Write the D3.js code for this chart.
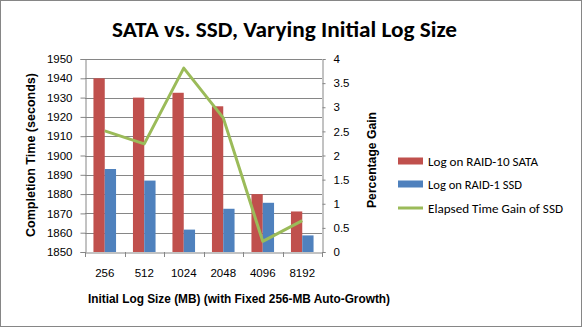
<!DOCTYPE html>
<html><head><meta charset="utf-8">
<script src="https://cdn.jsdelivr.net/npm/d3@7"></script>
<style>
body{margin:0;background:#fff;}
svg{display:block;}
</style></head>
<body><svg id="c" width="582" height="327"></svg>
<script>
const categories = ["256","512","1024","2048","4096","8192"];
const sataValues = [1940, 1930, 1932.5, 1925.5, 1880, 1871];
const ssdValues  = [1893, 1887, 1861.6, 1872.4, 1875.5, 1858.6];
const gainValues = [2.51, 2.24, 3.81, 2.78, 0.22, 0.65];
const leftTicks = [1850,1860,1870,1880,1890,1900,1910,1920,1930,1940,1950];
const rightTicks = [0,0.5,1,1.5,2,2.5,3,3.5,4];
const seriesNames = ["Log on RAID-10 SATA","Log on RAID-1 SSD","Elapsed Time  Gain of SSD"];
const colors = ["#C0504D","#4F81BD","#9BBB59"];

const svg = d3.select("#c");
const W=582,H=327;
svg.append("rect").attr("x",0.5).attr("y",0.5).attr("width",W-1).attr("height",H-1)
  .attr("fill","#fff").attr("stroke","#868686");

const L=85, R=322, T=59, B=252;
const x = d3.scaleBand().domain(categories).range([L,R]).paddingInner(0).paddingOuter(0);
const yL = d3.scaleLinear().domain([1850,1950]).range([B,T]);
const yR = d3.scaleLinear().domain([0,4]).range([B,T]);

// gridlines
svg.append("g").selectAll("line").data(leftTicks.slice(1)).join("line")
  .attr("x1",L).attr("x2",R).attr("y1",d=>Math.round(yL(d))+0.5).attr("y2",d=>Math.round(yL(d))+0.5)
  .attr("stroke","#868686").attr("stroke-width",1);

// bars
const bw = 11.3;
const g = svg.append("g");
g.selectAll(".s").data(sataValues).join("rect")
  .attr("x",(d,i)=>x(categories[i])+x.bandwidth()/2-bw).attr("width",bw)
  .attr("y",d=>yL(d)).attr("height",d=>B-yL(d)).attr("fill",colors[0]);
g.selectAll(".b").data(ssdValues).join("rect")
  .attr("x",(d,i)=>x(categories[i])+x.bandwidth()/2).attr("width",bw)
  .attr("y",d=>yL(d)).attr("height",d=>B-yL(d)).attr("fill",colors[1]);

// axes
const axL = svg.append("g").attr("transform",`translate(${L+0.5},0)`)
  .call(d3.axisLeft(yL).tickValues(leftTicks).tickSize(5).tickPadding(8).tickFormat(d3.format("d")));
const axR = svg.append("g").attr("transform",`translate(${R+0.5},0)`)
  .call(d3.axisRight(yR).tickValues(rightTicks).tickSize(3).tickPadding(8).tickFormat(d=>String(d)));
const axB = svg.append("g").attr("transform",`translate(0,${B+0.5})`)
  .call(d3.axisBottom(x).tickSize(0).tickPadding(16));
// category separators on x axis
svg.append("g").selectAll("line").data(categories.concat(["end"])).join("line")
  .attr("x1",(d,i)=>Math.round(L+i*x.bandwidth())+0.5).attr("x2",(d,i)=>Math.round(L+i*x.bandwidth())+0.5)
  .attr("y1",B).attr("y2",B+5).attr("stroke","#868686");
[axL,axR,axB].forEach(a=>{
  a.selectAll("path,line").attr("stroke","#868686");
  a.selectAll("text").attr("font-family","'Liberation Sans', Arial, sans-serif").attr("font-size",11.5).attr("fill","#000");
});

// line
svg.append("path").datum(gainValues)
  .attr("d",d3.line().x((d,i)=>x(categories[i])+x.bandwidth()/2).y(d=>yR(d)))
  .attr("fill","none").attr("stroke",colors[2]).attr("stroke-width",3).attr("stroke-linejoin","round");

// titles
const calibri = "Carlito, Lato, 'Open Sans', sans-serif";
const sans = "'Liberation Sans', Arial, sans-serif";
svg.append("text").attr("x",284.5).attr("y",37).attr("text-anchor","middle")
  .attr("font-family",calibri).attr("font-weight","bold").attr("font-size",23)
  .attr("textLength",345).attr("lengthAdjust","spacingAndGlyphs").text("SATA vs. SSD, Varying Initial Log Size");
svg.append("text").attr("transform","translate(35,155) rotate(-90)").attr("text-anchor","middle")
  .attr("font-family",sans).attr("font-weight","bold").attr("font-size",12.5)
  .attr("textLength",164).attr("lengthAdjust","spacingAndGlyphs").text("Completion Time (seconds)");
svg.append("text").attr("transform","translate(376,160) rotate(-90)").attr("text-anchor","middle")
  .attr("font-family",sans).attr("font-weight","bold").attr("font-size",12.5)
  .attr("textLength",96).attr("lengthAdjust","spacingAndGlyphs").text("Percentage Gain");
svg.append("text").attr("x",239).attr("y",303).attr("text-anchor","middle")
  .attr("font-family",sans).attr("font-weight","bold").attr("font-size",12.5)
  .attr("textLength",302).attr("lengthAdjust","spacingAndGlyphs").text("Initial Log Size (MB)  (with Fixed 256-MB Auto-Growth)");

// legend
const lg = svg.append("g");
const ly = [161,184,208];
const lw = [110,94,135];
seriesNames.forEach((n,i)=>{
  if(i<2) lg.append("rect").attr("x",398).attr("y",ly[i]-3.5).attr("width",25).attr("height",7).attr("fill",colors[i]);
  else lg.append("line").attr("x1",398).attr("x2",423).attr("y1",ly[i]).attr("y2",ly[i]).attr("stroke",colors[i]).attr("stroke-width",3);
  lg.append("text").attr("x",428).attr("y",ly[i]+4.5).attr("font-family",calibri).attr("font-size",13).attr("fill","#000")
    .attr("textLength",lw[i]).attr("lengthAdjust","spacingAndGlyphs").text(n);
});
</script></body></html>
